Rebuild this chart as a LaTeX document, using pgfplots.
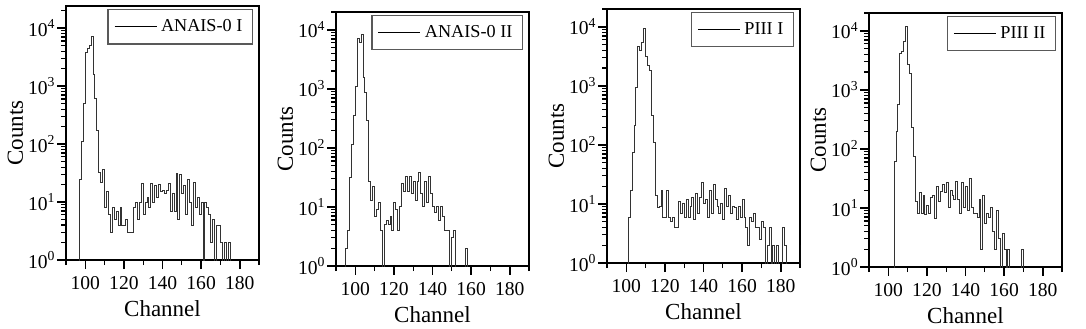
\documentclass[border=0pt]{standalone}
\usepackage{fontspec}
\setmainfont{Liberation Serif}
\usepackage{pgfplots}
\pgfplotsset{compat=1.18}

\pgfplotsset{
  panel/.style={
    scale only axis, width=96.5pt, height=127pt,
    xmin=90, xmax=190, ymin=1,
    xtick={100,120,...,180}, minor xtick={90,110,...,190},
    ytick={1,10,100,1000,10000},
    yticklabels={10\textsuperscript{0},10\textsuperscript{1},10\textsuperscript{2},10\textsuperscript{3},10\textsuperscript{4}},
    minor ytick={2,...,9,20,30,...,90,200,300,...,900,2000,3000,...,9000,20000},
    xtick align=outside, ytick align=outside,
    xtick pos=bottom, ytick pos=left,
    major tick length=4.5pt, minor tick length=2.5pt,
    every major tick/.append style={black, line width=0.8pt},
    every minor tick/.append style={black, line width=0.6pt},
    axis line style={line width=0.7pt},
    tick label style={font=\fontsize{9.8}{11}\selectfont},
    yticklabel style={xshift=0.5pt, inner xsep=1pt},
    label style={font=\fontsize{11.5}{13}\selectfont},
    xlabel={Channel}, ylabel={Counts},
    xlabel style={yshift=1pt}, ylabel style={yshift=-2pt},
    /pgf/number format/assume math mode=true,
    legend style={at={(1,1)}, anchor=north east, xshift=-3pt, yshift=-1.5pt,
      draw=black!65, line width=0.6pt, inner xsep=3pt, inner ysep=2.8pt,
      font=\fontsize{9.1}{10}\selectfont},
    legend image code/.code={\draw[black,line width=0.5pt] (0pt,0pt) -- (21pt,0pt);},
  },
  hist/.style={const plot, black!80, line width=0.5pt, mark=none},
}

\begin{document}
\begin{tikzpicture}
\useasboundingbox (0,0) rectangle (543pt,164pt);

% ANAIS-0 I
\begin{semilogyaxis}[panel, at={(33pt,34pt)}, ymax=2.4e4]
\addplot[hist] coordinates {
(96,0.1) (97,24) (98,110) (99,500) (100,3800) (101,4500) (102,5000) (103,7200)
(104,1600) (105,600) (106,170) (107,32) (108,22) (109,36) (110,8) (111,15)
(112,6) (113,3) (114,8) (115,5) (116,7) (117,4) (118,8) (119,4) (120,4)
(121,5) (122,3) (123,3) (124,3) (125,8) (126,10) (127,5) (128,10) (129,21)
(130,6) (131,10) (132,12) (133,8) (134,21) (135,10) (136,19) (137,12) (138,20)
(139,15) (140,16) (141,14) (142,16) (143,21) (144,7) (145,14) (146,7) (147,31)
(148,5) (149,30) (150,14) (151,19) (152,6) (153,24) (154,10) (155,4) (156,22)
(157,8) (158,12) (159,6) (160,10) (161,0.1) (162,10) (163,8) (164,6) (165,2)
(166,5) (167,0.1) (168,4) (169,4) (170,2) (171,0.1) (172,2) (173,0.1) (174,2)
(175,0.1) (176,0.1)};
\addlegendentry{ANAIS-0 I}
\end{semilogyaxis}

% ANAIS-0 II
\begin{semilogyaxis}[panel, at={(168pt,31pt)}, ymax=2e4]
\addplot[hist] coordinates {
(94,0.1) (95,2) (96,4) (97,31) (98,115) (99,350) (100,1100) (101,7000) (102,6000)
(103,8200) (104,1550) (105,870) (106,290) (107,27) (108,13) (109,22) (110,7)
(111,9) (112,12) (113,4) (114,0.1) (115,5) (116,6) (117,5) (118,7) (119,4)
(120,12) (121,9) (122,4) (123,10) (124,25) (125,18) (126,33) (127,18) (128,33)
(129,17) (130,27) (131,13) (132,27) (133,38) (134,17) (135,10) (136,27) (137,12)
(138,33) (139,17) (140,10) (141,8) (142,10) (143,6) (144,10) (145,7) (146,4)
(147,4) (148,4) (149,0.1) (150,3) (151,4) (152,0.1) (156,0.1) (157,2) (158,0.1)
(159,0.1)};
\addlegendentry{ANAIS-0 II}
\end{semilogyaxis}

% PIII I
\begin{semilogyaxis}[panel, at={(303.5pt,32.5pt)}, ymax=2e4]
\addplot[hist] coordinates {
(100,0.1) (101,6) (102,17) (103,75) (104,210) (105,950) (106,4600) (107,4000)
(108,5500) (109,9500) (110,3100) (111,2200) (112,1800) (113,310) (114,110)
(115,14) (116,8.7) (117,9) (118,17) (119,6) (120,6) (121,17) (122,6) (123,5)
(124,6) (125,4) (126,4) (127,11) (128,7) (129,10) (130,6) (131,12) (132,6)
(133,9) (134,13) (135,5.5) (136,15) (137,7) (138,13) (139,23) (140,10) (141,12)
(142,6) (143,17) (144,7) (145,21) (146,12) (147,9) (148,7) (149,10) (150,5.5)
(151,18) (152,9) (153,14) (154,7) (155,9) (156,8.7) (157,5.5) (158,9) (159,6)
(160,12) (161,6) (162,4) (163,2) (164,6) (165,5) (166,7) (167,4) (168,4)
(169,2.5) (170,5) (171,4) (172,0.1) (173,2) (174,4) (175,0.1) (176,2) (177,0.1)
(178,2) (179,0.1) (181,4) (182,2) (183,0.1) (190,2) (191,2)};
\addlegendentry{PIII I}
\end{semilogyaxis}

% PIII II
\begin{semilogyaxis}[panel, at={(434.5pt,30.5pt)}, ymax=2e4]
\addplot[hist] coordinates {
(102,0.1) (103,62) (104,200) (105,570) (106,4100) (107,4500) (108,6500)
(109,12000) (110,2700) (111,1900) (112,230) (113,75) (114,13) (115,8) (116,18)
(117,8) (118,16) (119,7.6) (120,11) (121,8) (122,15) (123,16) (124,6.7) (125,23)
(126,13) (127,19) (128,25) (129,18) (130,27) (131,10) (132,20) (133,16) (134,14)
(135,28) (136,14) (137,8) (138,27) (139,10) (140,23) (141,9) (142,32) (143,10)
(144,8) (145,8) (146,7) (147,14) (148,2) (149,16) (150,5.5) (151,8) (152,7)
(153,10) (154,4) (155,2) (156,9) (157,3) (158,0.1) (159,3.7) (160,2) (161,0.1)
(162,2) (163,0.1) (168,0.1) (169,2) (170,0.1) (171,0.1)};
\addlegendentry{PIII II}
\end{semilogyaxis}
\end{tikzpicture}
\end{document}
